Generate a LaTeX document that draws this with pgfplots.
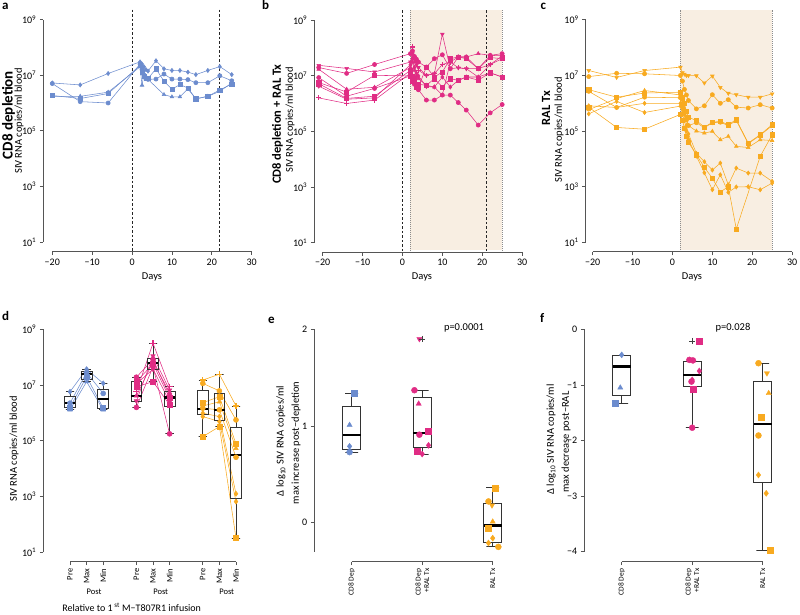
\documentclass[border=0pt]{standalone}
\usepackage{fontspec}
\setmainfont{Carlito}
\usepackage{pgfplots}
\pgfplotsset{compat=1.18}
\definecolor{cblue}{RGB}{108,140,206}
\definecolor{cpink}{RGB}{224,44,132}
\definecolor{corange}{RGB}{248,170,32}
\definecolor{shadec}{RGB}{248,238,226}
\definecolor{axgray}{RGB}{85,85,85}
\newcommand{\pztf}{\fontsize{10}{12}\selectfont}
\newcommand{\pzsup}[1]{10\textsuperscript{#1}}
\pgfplotsset{
  pzprism/.style={
    /pgfplots/scale only axis, /pgfplots/clip=false,
    /pgfplots/axis x line=bottom, /pgfplots/axis y line=left,
    /pgfplots/axis line style={-, draw=axgray, line width=0.8pt},
    /pgfplots/tick style={draw=axgray, line width=0.8pt},
    /pgfplots/tick align=outside, /pgfplots/major tick length=3.5pt,
    /pgfplots/xminorticks=false, /pgfplots/yminorticks=false,
    /pgfplots/tick label style={font=\pztf, text=black},
    /pgf/number format/assume math mode=true,
  },
  pzser/.style={/tikz/color=#1, /tikz/line width=0.55pt, /tikz/mark size=2.1pt},
  pzdser/.style={/tikz/color=#1, /tikz/line width=0.55pt, /tikz/mark size=2.5pt},
  pzpts/.style={/tikz/color=#1, /tikz/mark size=3pt},
  pzboxl/.style={/tikz/draw=black!80, /tikz/line width=0.8pt, /tikz/line join=miter},
  pzmed/.style={/tikz/draw=black, /tikz/line width=2.2pt},
}
\tikzset{
  pzdash/.style={black!85, line width=0.7pt, dash pattern=on 2.5pt off 2pt},
  pzdot/.style={black!45, line width=0.6pt, dash pattern=on 0.8pt off 1.2pt},
}
\begin{document}
\begin{tikzpicture}
\useasboundingbox (0,0) rectangle (800pt,614pt);

% ---------------- panel a ----------------
\begin{axis}[pzprism, width=199.4pt, height=222.4pt,
  ymode=log, ymin=10, ymax=1e9, ytick={1e1,1e3,1e5,1e7,1e9}, yticklabels={\pzsup{1},\pzsup{3},\pzsup{5},\pzsup{7},\pzsup{9}},
  xmin=-20, xmax=30, xtick={-20,-10,0,10,20,30}, xticklabels={−20,−10,0,10,20,30},
  axis x line shift=9.5pt, axis y line shift=9pt,
  at={(52.3pt,372pt)}, anchor=south west]
\draw[pzdash] (rel axis cs:0.4,1.045) -- (rel axis cs:0.4,-0.043);
\draw[pzdash] (rel axis cs:0.84,1.045) -- (rel axis cs:0.84,-0.043);
\addplot[pzser=cblue, mark=diamond*] coordinates {(-20,5.25e6)(-13,4.47e6)(-6,1.15e7)(2,3.02e7)(2.5,2.51e7)(3,2.00e7)(3.5,1.58e7)(4,1.41e7)(6,3.31e7)(8,1.70e7)(10,1.48e7)(12,1.48e7)(14,1.29e7)(16,1.05e7)(19,1.48e7)(22,2.04e7)(25,1.05e7)};
\addplot[pzser=cblue, mark=*] coordinates {(-20,5.01e6)(-13,1.12e6)(-6,1.00e6)(2,2.51e7)(2.5,1.58e7)(3,1.00e7)(3.5,7.94e6)(4,7.08e6)(6,7.24e6)(8,1.10e7)(10,7.24e6)(12,7.24e6)(14,6.92e6)(16,5.37e6)(19,5.37e6)(22,9.55e6)(25,6.31e6)};
\addplot[pzser=cblue, mark=square*] coordinates {(-20,1.86e6)(-13,1.45e6)(-6,2.19e6)(2,2.24e7)(2.5,1.26e7)(3,8.91e6)(3.5,7.94e6)(4,7.59e6)(6,1.70e7)(8,6.03e6)(10,3.16e6)(12,4.57e6)(14,3.47e6)(16,1.41e6)(19,1.74e6)(22,2.95e6)(25,4.79e6)};
\addplot[pzser=cblue, mark=triangle*] coordinates {(-20,1.74e6)(-13,1.74e6)(-6,2.45e6)(2,2.00e7)(2.5,4.37e6)(3,1.12e7)(3.5,8.91e6)(4,7.08e6)(8,2.00e6)(10,1.66e6)(12,1.66e6)(14,3.24e6)(16,1.41e6)(19,1.74e6)(22,2.63e6)(25,5.25e6)};
\end{axis}

% ---------------- panel b ----------------
\begin{axis}[pzprism, width=199.4pt, height=222.4pt,
  ymode=log, ymin=10, ymax=1e9, ytick={1e1,1e3,1e5,1e7,1e9}, yticklabels={\pzsup{1},\pzsup{3},\pzsup{5},\pzsup{7},\pzsup{9}},
  xmin=-20, xmax=30, xtick={-20,-10,0,10,20,30}, xticklabels={−20,−10,0,10,20,30},
  axis x line shift=9.5pt, axis y line shift=8.4pt,
  at={(322.7pt,371.3pt)}, anchor=south west]
\fill[shadec] (rel axis cs:0.44,-0.035) rectangle (rel axis cs:0.9,1.045);
\draw[pzdot] (rel axis cs:0.44,-0.035) -- (rel axis cs:0.44,1.045);
\draw[pzdot] (rel axis cs:0.9,-0.035) -- (rel axis cs:0.9,1.045);
\draw[pzdash] (rel axis cs:0.4,1.045) -- (rel axis cs:0.4,-0.043);
\draw[pzdash] (rel axis cs:0.82,1.045) -- (rel axis cs:0.82,-0.043);
\addplot[pzser=cpink, mark=triangle*, mark options={rotate=180}] coordinates {(-21,2.40e7)(-14,1.86e7)(-7,1.38e7)(2,3.16e7)(2.5,6.31e7)(3,3.98e7)(3.5,2.51e7)(4,2.00e7)(6,1.05e7)(8,1.20e7)(10,3.16e8)(12,1.82e7)(14,1.95e7)(16,1.82e7)(19,1.82e7)(22,2.57e7)(25,4.17e7)};
\addplot[pzser=cpink, mark=triangle*] coordinates {(-21,1.74e7)(-14,3.31e6)(-7,3.89e6)(2,2.00e7)(2.5,3.16e7)(3,1.58e7)(3.5,1.00e7)(4,7.94e6)(6,4.57e6)(8,3.98e6)(10,2.04e6)(12,3.16e7)(14,4.79e7)(16,4.79e7)(19,6.31e7)(22,5.50e7)(25,5.25e7)};
\addplot[pzser=cpink, mark=*] coordinates {(-21,8.71e6)(-14,1.86e6)(-7,3.55e6)(2,1.00e7)(2.5,7.94e6)(3,5.01e6)(3.5,3.98e6)(4,3.16e6)(6,1.35e6)(8,1.35e6)(10,2.04e6)(12,2.04e6)(14,1.10e6)(16,5.89e5)(19,1.70e5)(22,4.68e5)(25,9.33e5)};
\addplot[pzser=cpink, mark=square*] coordinates {(-21,5.25e6)(-14,1.55e6)(-7,1.86e6)(2,1.58e7)(2.5,1.00e7)(3,7.08e6)(3.5,5.01e6)(4,3.98e6)(6,2.09e7)(8,9.12e6)(10,1.38e7)(12,4.17e7)(14,4.79e7)(16,4.17e7)(19,1.82e7)(22,4.57e7)(25,4.17e7)};
\addplot[pzser=cpink, mark=diamond*] coordinates {(-21,4.27e6)(-14,1.45e6)(-7,1.62e6)(2,2.51e7)(2.5,3.98e7)(3,2.00e7)(3.5,1.26e7)(4,1.00e7)(6,4.17e6)(8,3.98e6)(10,9.12e6)(12,3.98e6)(14,6.92e6)(16,9.12e6)(19,9.12e6)(22,1.29e7)(25,9.12e6)};
\addplot[pzser=cpink, mark=*] coordinates {(-21,2.00e7)(-14,1.23e7)(-7,2.57e7)(2,6.31e7)(2.5,7.94e7)(3,5.01e7)(3.5,3.98e7)(4,3.16e7)(6,2.09e7)(8,4.17e7)(10,5.75e7)(12,1.82e7)(14,4.79e7)(16,4.79e7)(19,1.82e7)(22,5.50e7)(25,6.31e7)};
\addplot[pzser=cpink, mark=+, mark size=2.5pt, mark options={line width=1.2pt}] coordinates {(-21,1.62e6)(-14,1.02e6)(-7,1.35e6)(2,1.26e7)(2.5,1.10e8)(3,5.01e7)(3.5,3.16e7)(4,1.58e7)(6,1.05e7)(8,1.20e7)(10,2.57e7)(12,3.16e7)(14,1.95e7)(16,1.82e7)(19,9.12e6)(22,2.57e7)(25,5.25e7)};
\addplot[pzser=cpink, mark=square*] coordinates {(-21,5.75e6)(-14,2.63e6)(-7,1.05e7)(2,1.00e7)(2.5,6.31e6)(3,7.94e6)(3.5,3.98e6)(4,5.01e6)(6,4.57e6)(8,7.94e6)(10,3.98e6)(12,7.94e6)(14,6.92e6)(16,9.12e6)(19,7.08e6)(22,1.29e7)(25,9.12e6)};
\end{axis}

% ---------------- panel c ----------------
\begin{axis}[pzprism, width=199.4pt, height=222.4pt,
  ymode=log, ymin=10, ymax=1e9, ytick={1e1,1e3,1e5,1e7,1e9}, yticklabels={\pzsup{1},\pzsup{3},\pzsup{5},\pzsup{7},\pzsup{9}},
  xmin=-20, xmax=30, xtick={-20,-10,0,10,20,30}, xticklabels={−20,−10,0,10,20,30},
  axis x line shift=9.5pt, axis y line shift=7pt,
  at={(592.7pt,371.7pt)}, anchor=south west]
\fill[shadec] (rel axis cs:0.44,-0.035) rectangle (rel axis cs:0.9,1.045);
\draw[pzdot] (rel axis cs:0.44,-0.035) -- (rel axis cs:0.44,1.045);
\draw[pzdot] (rel axis cs:0.9,-0.035) -- (rel axis cs:0.9,1.045);
\addplot[pzser=corange, mark=triangle*, mark options={rotate=180}] coordinates {(-21,1.51e7)(-14,8.51e6)(-7,1.51e7)(2,2.00e7)(2.5,1.26e7)(3,1.12e7)(3.5,1.00e7)(4,1.00e7)(6,9.77e6)(8,5.37e6)(10,9.55e6)(12,3.72e6)(14,2.29e6)(16,2.04e6)(19,1.66e6)(22,1.66e6)(25,2.19e6)};
\addplot[pzser=corange, mark=*] coordinates {(-21,9.12e6)(-14,1.20e7)(-7,1.15e7)(2,1.00e7)(2.5,6.31e6)(3,3.16e6)(3.5,2.00e6)(4,1.26e6)(6,6.31e5)(8,8.13e5)(10,2.04e6)(12,1.00e6)(14,1.35e6)(16,7.24e5)(19,6.76e5)(22,8.91e5)(25,6.76e5)};
\addplot[pzser=corange, mark=square*] coordinates {(-21,3.09e6)(-14,1.66e6)(-7,2.34e6)(2,2.51e6)(2.5,1.58e6)(3,1.00e6)(3.5,5.01e5)(4,3.16e5)(6,2.40e5)(8,1.38e5)(10,2.09e5)(12,2.24e5)(14,1.70e5)(16,2.57e5)(19,3.72e4)(22,7.41e4)(25,1.70e5)};
\addplot[pzser=corange, mark=triangle*] coordinates {(-21,5.89e5)(-14,1.48e6)(-7,2.88e6)(2,2.00e6)(2.5,1.00e6)(3,6.31e5)(3.5,3.16e5)(4,1.58e5)(6,1.00e5)(8,8.51e4)(10,9.77e4)(12,4.90e4)(14,6.46e4)(16,2.82e4)(19,2.57e4)(22,4.90e4)(25,4.57e4)};
\addplot[pzser=corange, mark=diamond*] coordinates {(-21,8.13e5)(-14,7.08e5)(-7,1.00e6)(2,1.00e6)(2.5,6.31e5)(3,3.98e5)(3.5,1.58e5)(4,7.94e4)(6,1.58e4)(8,7.94e3)(10,3.98e3)(12,7.08e3)(14,1.17e3)(16,4.68e3)(19,3.09e3)(22,3.09e3)(25,1.55e3)};
\addplot[pzser=corange, mark=diamond*] coordinates {(-21,4.17e5)(-14,1.17e6)(-7,4.68e5)(2,7.94e5)(2.5,3.98e5)(3,2.51e5)(3.5,1.00e5)(4,5.01e4)(6,1.26e4)(8,3.16e3)(10,776)(12,2.69e3)(14,631)(16,977)(19,1.00e3)(22,776)(25,1.35e3)};
\addplot[pzser=corange, mark=square*] coordinates {(-21,7.24e5)(-14,1.35e5)(-7,1.17e5)(2,3.98e5)(2.5,2.51e5)(3,1.26e5)(3.5,6.31e4)(4,3.98e4)(6,1.41e4)(8,5.01e3)(10,2.00e3)(12,646)(14,1.00e3)(16,30.2)(22,1.23e4)(25,7.41e4)};
\addplot[pzser=corange, mark=*] coordinates {(-21,2.69e6)(-14,7.08e5)(-7,1.66e6)(2,1.58e6)(2.5,7.94e5)(3,5.01e5)(3.5,2.51e5)(4,1.58e5)(6,2.00e5)(8,1.32e5)(10,2.00e5)(12,2.09e5)(14,1.58e5)(16,2.40e5)(19,3.55e4)(22,7.08e4)(25,1.58e5)};
\end{axis}

% ---------------- panel d ----------------
\begin{axis}[pzprism, width=166pt, height=223pt,
  ymode=log, ymin=10, ymax=1e9, ytick={1e1,1e3,1e5,1e7,1e9}, yticklabels={\pzsup{1},\pzsup{3},\pzsup{5},\pzsup{7},\pzsup{9}},
  xmin=1, xmax=11, xtick={1,2,3,5,6,7,9,10,11},
  xticklabels={Pre,Max,Min,Pre,Max,Min,Pre,Max,Min},
  xticklabel style={rotate=90, anchor=east, font=\fontsize{8.5}{10}\selectfont},
  axis x line shift=9.4pt, axis y line shift=26.7pt,
  at={(70pt,61.7pt)}, anchor=south west]
\addplot[pzdser=cblue, mark=diamond*] coordinates {(1,5.75e6)(2,3.72e7)(3,1.15e7)};
\addplot[pzdser=cblue, mark=*] coordinates {(1,2.24e6)(2,2.82e7)(3,5.01e6)};
\addplot[pzdser=cblue, mark=square*] coordinates {(1,1.58e6)(2,2.00e7)(3,1.48e6)};
\addplot[pzdser=cblue, mark=triangle*] coordinates {(1,1.29e6)(2,1.32e7)(3,1.29e6)};
\addplot[pzdser=cpink, mark=+, mark size=3pt, mark options={line width=1.2pt}] coordinates {(5,5.75e6)(6,3.16e8)(7,8.71e6)};
\addplot[pzdser=cpink, mark=triangle*, mark options={rotate=180}] coordinates {(5,2.69e6)(6,1.10e8)(7,6.61e6)};
\addplot[pzdser=cpink, mark=*] coordinates {(5,1.91e7)(6,8.32e7)(7,4.07e6)};
\addplot[pzdser=cpink, mark=triangle*] coordinates {(5,4.07e6)(6,6.92e7)(7,5.37e6)};
\addplot[pzdser=cpink, mark=square*] coordinates {(5,1.32e7)(6,5.75e7)(7,3.39e6)};
\addplot[pzdser=cpink, mark=*] coordinates {(5,1.58e6)(6,4.57e7)(7,1.78e5)};
\addplot[pzdser=cpink, mark=diamond*] coordinates {(5,1.10e7)(6,3.72e7)(7,2.51e6)};
\addplot[pzdser=cpink, mark=square*] coordinates {(5,8.71e6)(6,1.32e7)(7,1.95e6)};
\addplot[pzdser=corange, mark=+, mark size=3pt, mark options={line width=1.2pt}] coordinates {(9,1.51e7)(10,2.45e7)(11,1.78e6)};
\addplot[pzdser=corange, mark=*] coordinates {(9,1.15e7)(10,6.17e6)(11,5.62e5)};
\addplot[pzdser=corange, mark=square*] coordinates {(9,2.34e6)(10,3.80e6)(11,7.76e4)};
\addplot[pzdser=corange, mark=triangle*] coordinates {(9,1.78e6)(10,2.51e6)(11,5.37e4)};
\addplot[pzdser=corange, mark=*] coordinates {(9,1.48e6)(10,1.29e6)(11,2.57e4)};
\addplot[pzdser=corange, mark=diamond*] coordinates {(9,9.77e5)(10,7.41e5)(11,1.26e3)};
\addplot[pzdser=corange, mark=diamond*] coordinates {(9,7.41e5)(10,4.90e5)(11,661)};
\addplot[pzdser=corange, mark=square*] coordinates {(9,1.41e5)(10,3.24e5)(11,32.4)};
% boxes (whiskers, caps, quartile box) and medians
\addplot[pzboxl] coordinates {(0.75,5.75e6)(1.25,5.75e6)(1,5.75e6)(1,3.80e6)(1.33,3.80e6)(1.33,1.58e6)(1,1.58e6)(1,1.29e6)(1.25,1.29e6)(0.75,1.29e6)(1,1.29e6)(1,1.58e6)(0.67,1.58e6)(0.67,3.80e6)(1,3.80e6)};
\addplot[pzmed] coordinates {(0.67,2.24e6)(1.33,2.24e6)};
\addplot[pzboxl] coordinates {(1.75,3.72e7)(2.25,3.72e7)(2,3.72e7)(2,3.02e7)(2.33,3.02e7)(2.33,1.62e7)(2,1.62e7)(2,1.32e7)(2.25,1.32e7)(1.75,1.32e7)(2,1.32e7)(2,1.62e7)(1.67,1.62e7)(1.67,3.02e7)(2,3.02e7)};
\addplot[pzmed] coordinates {(1.67,2.45e7)(2.33,2.45e7)};
\addplot[pzboxl] coordinates {(2.75,1.15e7)(3.25,1.15e7)(3,1.15e7)(3,7.08e6)(3.33,7.08e6)(3.33,1.48e6)(3,1.48e6)(3,1.29e6)(3.25,1.29e6)(2.75,1.29e6)(3,1.29e6)(3,1.48e6)(2.67,1.48e6)(2.67,7.08e6)(3,7.08e6)};
\addplot[pzmed] coordinates {(2.67,3.09e6)(3.33,3.09e6)};
\addplot[pzboxl] coordinates {(4.75,1.91e7)(5.25,1.91e7)(5,1.91e7)(5,1.32e7)(5.33,1.32e7)(5.33,2.69e6)(5,2.69e6)(5,1.58e6)(5.25,1.58e6)(4.75,1.58e6)(5,1.58e6)(5,2.69e6)(4.67,2.69e6)(4.67,1.32e7)(5,1.32e7)};
\addplot[pzmed] coordinates {(4.67,4.07e6)(5.33,4.07e6)};
\addplot[pzboxl] coordinates {(5.75,3.16e8)(6.25,3.16e8)(6,3.16e8)(6,9.12e7)(6.33,9.12e7)(6.33,3.72e7)(6,3.72e7)(6,1.32e7)(6.25,1.32e7)(5.75,1.32e7)(6,1.32e7)(6,3.72e7)(5.67,3.72e7)(5.67,9.12e7)(6,9.12e7)};
\addplot[pzmed] coordinates {(5.67,6.03e7)(6.33,6.03e7)};
\addplot[pzboxl] coordinates {(6.75,8.71e6)(7.25,8.71e6)(7,8.71e6)(7,5.75e6)(7.33,5.75e6)(7.33,1.70e6)(7,1.70e6)(7,1.78e5)(7.25,1.78e5)(6.75,1.78e5)(7,1.78e5)(7,1.70e6)(6.67,1.70e6)(6.67,5.75e6)(7,5.75e6)};
\addplot[pzmed] coordinates {(6.67,3.55e6)(7.33,3.55e6)};
\addplot[pzboxl] coordinates {(8.75,1.51e7)(9.25,1.51e7)(9,1.51e7)(9,6.61e6)(9.33,6.61e6)(9.33,8.51e5)(9,8.51e5)(9,1.41e5)(9.25,1.41e5)(8.75,1.41e5)(9,1.41e5)(9,8.51e5)(8.67,8.51e5)(8.67,6.61e6)(9,6.61e6)};
\addplot[pzmed] coordinates {(8.67,1.38e6)(9.33,1.38e6)};
\addplot[pzboxl] coordinates {(9.75,2.45e7)(10.25,2.45e7)(10,2.45e7)(10,5.13e6)(10.33,5.13e6)(10.33,5.25e5)(10,5.25e5)(10,3.24e5)(10.25,3.24e5)(9.75,3.24e5)(10,3.24e5)(10,5.25e5)(9.67,5.25e5)(9.67,5.13e6)(10,5.13e6)};
\addplot[pzmed] coordinates {(9.67,1.29e6)(10.33,1.29e6)};
\addplot[pzboxl] coordinates {(10.75,1.78e6)(11.25,1.78e6)(11,1.78e6)(11,3.09e5)(11.33,3.09e5)(11.33,871)(11,871)(11,32.4)(11.25,32.4)(10.75,32.4)(11,32.4)(11,871)(10.67,871)(10.67,3.09e5)(11,3.09e5)};
\addplot[pzmed] coordinates {(10.67,3.09e4)(11.33,3.09e4)};
\end{axis}

% ---------------- panel e ----------------
\begin{axis}[pzprism, width=141pt, height=222.4pt,
  xmin=1, xmax=3, ymin=-0.3, ymax=2, ytick={0,1,2}, xtick={1,2,3},
  xticklabels={CD8 Dep,{CD8 Dep\\+RAL Tx},RAL Tx},
  xticklabel style={rotate=90, anchor=east, align=right, font=\fontsize{7.5}{8.5}\selectfont},
  axis x line shift=10pt, axis y line shift=37.4pt,
  at={(351.7pt,62.3pt)}, anchor=south west]
\addplot[only marks, pzpts=cblue, mark=square*] coordinates {(1.03,1.34)};
\addplot[only marks, pzpts=cblue, mark=triangle*] coordinates {(0.97,1.01)};
\addplot[only marks, pzpts=cblue, mark=diamond*] coordinates {(0.97,0.79)};
\addplot[only marks, pzpts=cblue, mark=*] coordinates {(0.97,0.73)};
\addplot[only marks, pzpts=cpink, mark=triangle*, mark options={rotate=180}] coordinates {(1.96,1.90)};
\addplot[only marks, pzpts=cpink, mark=*] coordinates {(1.89,1.37)(1.96,0.91)};
\addplot[only marks, pzpts=cpink, mark=triangle*] coordinates {(1.95,1.23)};
\addplot[only marks, pzpts=cpink, mark=square*] coordinates {(2.09,0.95)(1.93,0.74)};
\addplot[only marks, pzpts=cpink, mark=diamond*] coordinates {(2.09,0.80)(2.00,0.71)};
\addplot[only marks, pzpts=corange, mark=square*] coordinates {(3.03,0.36)(2.94,-0.06)};
\addplot[only marks, pzpts=corange, mark=*] coordinates {(2.94,0.22)(3.08,-0.25)};
\addplot[only marks, pzpts=corange, mark=triangle*, mark options={rotate=180}] coordinates {(2.99,0.18)};
\addplot[only marks, pzpts=corange, mark=triangle*] coordinates {(3.0,0.01)};
\addplot[only marks, pzpts=corange, mark=diamond*] coordinates {(3.0,-0.16)(2.94,-0.21)};
\addplot[only marks, mark=+, black!75, mark size=3pt, mark options={line width=0.9pt}] coordinates {(2.0,1.90)};
\addplot[pzboxl] coordinates {(0.91,1.34)(1.09,1.34)(1,1.34)(1,1.20)(1.13,1.20)(1.13,0.76)(1,0.76)(1,0.73)(1.09,0.73)(0.91,0.73)(1,0.73)(1,0.76)(0.87,0.76)(0.87,1.20)(1,1.20)};
\addplot[pzmed] coordinates {(0.87,0.91)(1.13,0.91)};
\addplot[pzboxl] coordinates {(1.91,1.37)(2.09,1.37)(2,1.37)(2,1.30)(2.13,1.30)(2.13,0.78)(2,0.78)(2,0.71)(2.09,0.71)(1.91,0.71)(2,0.71)(2,0.78)(1.87,0.78)(1.87,1.30)(2,1.30)};
\addplot[pzmed] coordinates {(1.87,0.93)(2.13,0.93)};
\addplot[pzboxl] coordinates {(2.91,0.36)(3.09,0.36)(3,0.36)(3,0.20)(3.13,0.20)(3.13,-0.20)(3,-0.20)(3,-0.25)(3.09,-0.25)(2.91,-0.25)(3,-0.25)(3,-0.20)(2.87,-0.20)(2.87,0.20)(3,0.20)};
\addplot[pzmed] coordinates {(2.87,-0.03)(3.13,-0.03)};
\end{axis}

% ---------------- panel f ----------------
\begin{axis}[pzprism, width=141pt, height=222.4pt,
  xmin=1, xmax=3, ymin=-4, ymax=0, ytick={-4,-3,-2,-1,0}, yticklabels={−4,−3,−2,−1,0}, xtick={1,2,3},
  xticklabels={CD8 Dep,{CD8 Dep\\+RAL Tx},RAL Tx},
  xticklabel style={rotate=90, anchor=east, align=right, font=\fontsize{7.5}{8.5}\selectfont},
  axis x line shift=10pt, axis y line shift=37.4pt,
  at={(621.7pt,62.3pt)}, anchor=south west]
\addplot[only marks, pzpts=cblue, mark=diamond*] coordinates {(1.0,-0.46)};
\addplot[only marks, pzpts=cblue, mark=triangle*] coordinates {(0.98,-1.05)};
\addplot[only marks, pzpts=cblue, mark=square*] coordinates {(0.91,-1.33)};
\addplot[only marks, pzpts=cpink, mark=square*] coordinates {(2.10,-0.21)(2.01,-1.08)};
\addplot[only marks, pzpts=cpink, mark=*] coordinates {(1.96,-0.55)(2.01,-0.56)(1.99,-0.94)(2.0,-1.77)};
\addplot[only marks, pzpts=cpink, mark=diamond*] coordinates {(2.10,-0.75)(2.00,-0.91)};
\addplot[only marks, pzpts=corange, mark=*] coordinates {(2.94,-0.61)(2.94,-1.91)};
\addplot[only marks, pzpts=corange, mark=triangle*, mark options={rotate=180}] coordinates {(3.06,-0.79)};
\addplot[only marks, pzpts=corange, mark=triangle*] coordinates {(3.085,-1.15)};
\addplot[only marks, pzpts=corange, mark=square*] coordinates {(2.98,-1.58)(3.10,-3.98)};
\addplot[only marks, pzpts=corange, mark=diamond*] coordinates {(2.94,-2.62)(3.05,-2.95)};
\addplot[only marks, mark=+, black!75, mark size=3pt, mark options={line width=0.9pt}] coordinates {(2.0,-0.21)};
\addplot[pzboxl] coordinates {(1,-0.47)(1.13,-0.47)(1.13,-1.18)(1,-1.18)(1,-1.33)(1.09,-1.33)(0.91,-1.33)(1,-1.33)(1,-1.18)(0.87,-1.18)(0.87,-0.47)(1,-0.47)};
\addplot[pzmed] coordinates {(0.87,-0.67)(1.13,-0.67)};
\addplot[pzboxl] coordinates {(2,-0.58)(2.13,-0.58)(2.13,-1.02)(2,-1.02)(2,-1.77)(2.09,-1.77)(1.91,-1.77)(2,-1.77)(2,-1.02)(1.87,-1.02)(1.87,-0.58)(2,-0.58)};
\addplot[pzmed] coordinates {(1.87,-0.82)(2.13,-0.82)};
\addplot[pzboxl] coordinates {(2.91,-0.61)(3.09,-0.61)(3,-0.61)(3,-0.93)(3.13,-0.93)(3.13,-2.76)(3,-2.76)(3,-3.98)(3.09,-3.98)(2.91,-3.98)(3,-3.98)(3,-2.76)(2.87,-2.76)(2.87,-0.93)(3,-0.93)};
\addplot[pzmed] coordinates {(2.87,-1.70)(3.13,-1.70)};
\end{axis}

% ---------------- texts ----------------
\begin{scope}[x=1pt,y=-1pt,shift={(0,614pt)}]
\tikzset{lt/.style={font=\bfseries\fontsize{13}{13}\selectfont, anchor=base west, inner sep=0pt}}
\node[lt] at (2,10) {a};
\node[lt] at (262,10) {b};
\node[lt] at (540.5,10) {c};
\node[lt] at (2,320.7) {d};
\node[lt] at (268,323) {e};
\node[lt] at (540,322.7) {f};
\tikzset{yl/.style={rotate=90, inner sep=0pt, font=\fontsize{10.5}{12}\selectfont}}
\node[yl, font=\bfseries\fontsize{15}{15}\selectfont] at (8.5,115) {CD8 depletion};
\node[yl] at (19,121) {SIV RNA copies/ml blood};
\node[yl, font=\bfseries\fontsize{12.5}{13}\selectfont] at (277.5,124) {CD8 depletion + RAL Tx};
\node[yl] at (290,120) {SIV RNA copies/ml blood};
\node[yl, font=\bfseries\fontsize{12.5}{13}\selectfont] at (546,108) {RAL Tx};
\node[yl] at (559,130) {SIV RNA copies/ml blood};
\node[yl] at (14,449) {SIV RNA copies/ml blood};
\node[yl] at (281,441) {Δ log\textsubscript{10} SIV RNA copies/ml};
\node[yl] at (296,443) {max increase post−depletion};
\node[yl] at (551,439.5) {Δ log\textsubscript{10} SIV RNA copies/ml};
\node[yl] at (566,442) {max decrease post−RAL};
\tikzset{xl/.style={inner sep=0pt, font=\fontsize{10.5}{12}\selectfont}}
\node[xl] at (152,277) {Days};
\node[xl] at (422,277) {Days};
\node[xl] at (692,277) {Days};
\node[xl] at (464,328) {p=0.0001};
\node[xl] at (733,328) {p=0.028};
\node[xl, font=\fontsize{8.5}{10}\selectfont] at (94,592) {Post};
\node[xl, font=\fontsize{8.5}{10}\selectfont] at (160.7,592) {Post};
\node[xl, font=\fontsize{8.5}{10}\selectfont] at (226.7,592) {Post};
\node[xl, font=\fontsize{10}{12}\selectfont, anchor=base] at (131.7,611) {Relative to 1\,\textsuperscript{st} M−T807R1 infusion};
\end{scope}
\end{tikzpicture}
\end{document}
